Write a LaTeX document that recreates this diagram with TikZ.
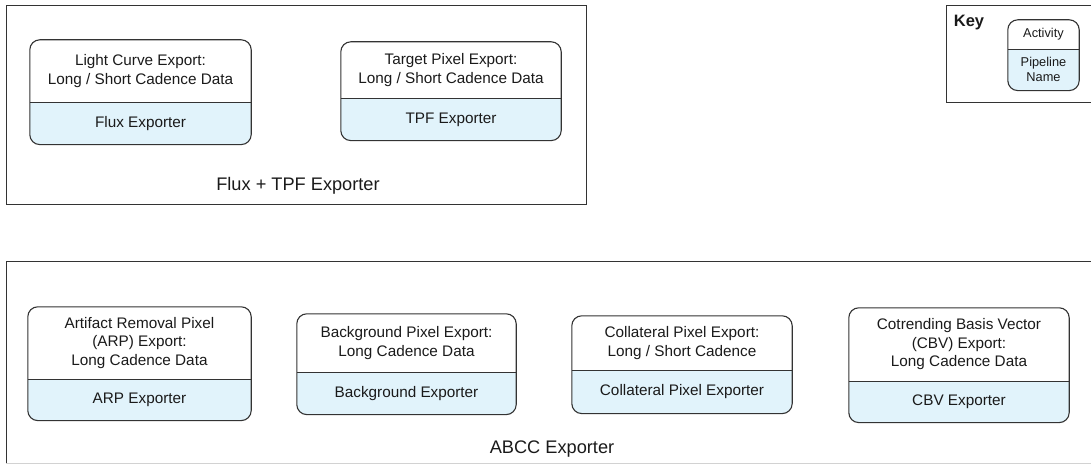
\documentclass[tikz,border=0pt]{standalone}
\usepackage{fontspec}
\setmainfont{Liberation Sans}
\usetikzlibrary{positioning, backgrounds}
\definecolor{kline}{HTML}{333333}
\definecolor{ktext}{HTML}{1A1A1A}
\definecolor{kpipe}{HTML}{E1F3FB}

\begin{document}
\begin{tikzpicture}[x=1pt, y=-1pt,
    activity/.style={inner sep=0pt, align=center, text=ktext,
                     font=\fontsize{15.3}{18.5}\selectfont},
    pipeline/.style={activity, below=0pt of #1},
    boxline/.style={draw=kline, line width=1.1pt},
    group/.style={draw=kline, line width=0.9pt},
    grouplabel/.style={text=ktext, font=\fontsize{18.2}{21}\selectfont}]
  \useasboundingbox (0,0) rectangle (1091,465);

  % Flux + TPF exporter
  \draw[group] (6,5) rectangle (586,204);
  \node[grouplabel] (fluxlabel) at (298,186) {Flux + TPF Exporter};
  \node[activity, minimum width=221pt, minimum height=62pt] (lc) at (140.5,71)
    {Light Curve Export:\\Long / Short Cadence Data};
  \node[pipeline=lc, minimum width=221pt, minimum height=42pt] (lc-pipe) {Flux Exporter};
  \node[activity, minimum width=220pt, minimum height=56pt] (tpf) at (451,70)
    {Target Pixel Export:\\Long / Short Cadence Data};
  \node[pipeline=tpf, minimum width=220pt, minimum height=42pt] (tpf-pipe) {TPF Exporter};

  % key
  \draw[group] (1091,5) -- (946,5) -- (946,102) -- (1091,102);
  \node[text=ktext, font=\bfseries\fontsize{16.5}{19}\selectfont] (keylabel) at (969,23) {Key};
  \node[activity, font=\fontsize{12.8}{15}\selectfont, minimum width=71pt,
        minimum height=29pt] (key) at (1043.5,34.5) {Activity};
  \node[pipeline=key, font=\fontsize{12.8}{15}\selectfont, minimum width=71pt,
        minimum height=41pt] (key-pipe) {Pipeline\\Name};

  % ABCC exporter
  \draw[group] (1091,261) -- (6,261) -- (6,463);
  \draw[gray!35, line width=0.9pt] (6,463) -- (1091,463);
  \node[grouplabel] (abcclabel) at (552,449) {ABCC Exporter};
  \node[activity, minimum width=223pt, minimum height=72pt] (arp) at (139.5,343)
    {Artifact Removal Pixel\\(ARP) Export:\\Long Cadence Data};
  \node[pipeline=arp, minimum width=223pt, minimum height=41pt] (arp-pipe) {ARP Exporter};
  \node[activity, minimum width=219pt, minimum height=58pt] (bg) at (406.5,343)
    {Background Pixel Export:\\Long Cadence Data};
  \node[pipeline=bg, minimum width=219pt, minimum height=42pt] (bg-pipe) {Background Exporter};
  \node[activity, minimum width=220pt, minimum height=54pt] (coll) at (682,343)
    {Collateral Pixel Export:\\Long / Short Cadence};
  \node[pipeline=coll, minimum width=220pt, minimum height=43pt] (coll-pipe) {Collateral Pixel Exporter};
  \node[activity, minimum width=220pt, minimum height=73pt] (cbv) at (959,344.5)
    {Cotrending Basis Vector\\(CBV) Export:\\Long Cadence Data};
  \node[pipeline=cbv, minimum width=220pt, minimum height=41pt] (cbv-pipe) {CBV Exporter};

  % pipeline fill and outlines
  \begin{scope}[on background layer]
    \foreach \n in {lc,tpf,key,arp,bg,coll,cbv}{
      \begin{scope}
        \clip[rounded corners=10pt] (\n.north west) rectangle (\n-pipe.south east);
        \fill[kpipe] (\n-pipe.north west) rectangle (\n-pipe.south east);
      \end{scope}
    }
  \end{scope}
  \foreach \n in {lc,tpf,key,arp,bg,coll,cbv}{
    \draw[boxline, rounded corners=10pt] (\n.north west) rectangle (\n-pipe.south east);
    \draw[boxline] (\n-pipe.north west) -- (\n-pipe.north east);
  }
\end{tikzpicture}
\end{document}
